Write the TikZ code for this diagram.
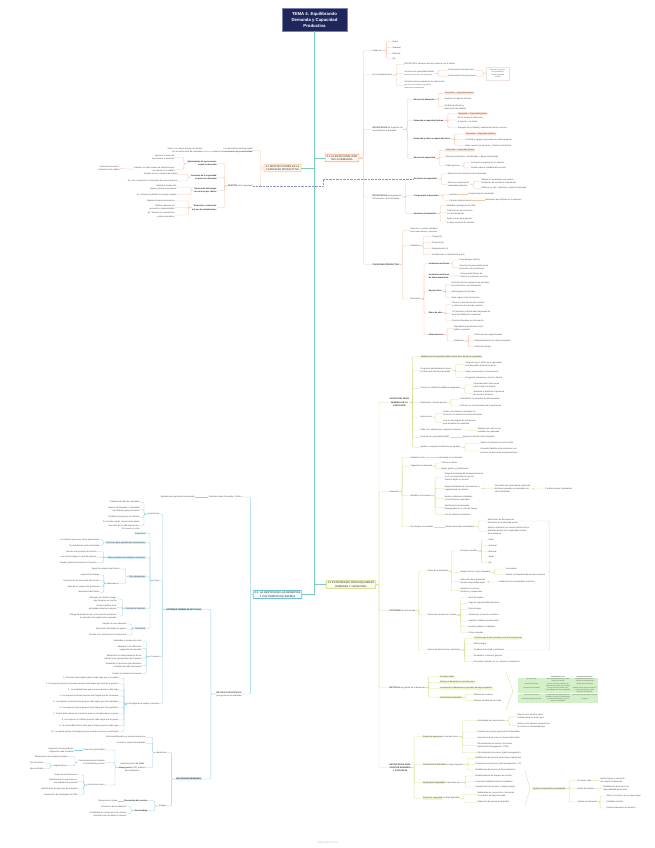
\documentclass[tikz,border=0pt]{standalone}
\usepackage{fontspec}
\setmainfont{Liberation Sans}
\usepackage{array,colortbl}
\usepackage{tikz}

\definecolor{ink}{RGB}{75,75,75}
\definecolor{ink2}{RGB}{45,40,40}
\definecolor{navy}{RGB}{31,38,92}
\definecolor{navyb}{RGB}{120,130,175}
\definecolor{mint}{RGB}{125,205,190}
\definecolor{oline}{RGB}{248,196,170}
\definecolor{obox}{RGB}{246,170,130}
\definecolor{ofill}{RGB}{255,246,240}
\definecolor{obox2}{RGB}{250,205,150}
\definecolor{ohl}{RGB}{253,226,212}
\definecolor{obx}{RGB}{236,226,222}
\definecolor{yline}{RGB}{218,224,150}
\definecolor{ybox}{RGB}{205,212,110}
\definecolor{yfill}{RGB}{252,253,238}
\definecolor{yhl}{RGB}{241,245,196}
\definecolor{tline}{RGB}{145,210,228}
\definecolor{tbox}{RGB}{110,190,218}
\definecolor{tfill}{RGB}{240,249,252}
\definecolor{thl}{RGB}{205,236,246}
\definecolor{dotc}{RGB}{140,150,190}
\definecolor{tgreen}{RGB}{212,240,200}
\definecolor{foot}{RGB}{190,190,190}

\newcommand{\fsz}{\fontsize{2.1}{3.1}\selectfont}
\newcommand{\fsm}{\fontsize{1.6}{2.3}\selectfont}
\newcommand{\hly}[1]{{\setlength{\fboxsep}{0.3pt}\colorbox{yhl}{#1}}}

\begin{document}
\begin{tikzpicture}[x=1pt, y=-1pt,
    lf/.style={font=\fsz, text=ink, inner sep=0.3pt, anchor=west, align=left},
    lr/.style={lf, anchor=east, align=right},
    bd/.style={font=\fsz\bfseries, text=ink2},
    hO/.style={fill=ohl, inner xsep=0.8pt, rounded corners=0.4pt},
    hY/.style={fill=yhl, inner xsep=0.8pt, rounded corners=0.4pt},
    hT/.style={fill=thl, inner xsep=0.8pt, rounded corners=0.4pt},
    ttl/.style={fill=navy, draw=navyb, line width=0.8pt, text=white, font=\fontsize{4.3}{6}\selectfont\bfseries, align=center, minimum width=65, minimum height=23, inner sep=1pt},
    sec/.style={draw, line width=0.7pt, font=\fontsize{2.6}{3.3}\selectfont, text=ink2, align=center, inner xsep=1.5pt, inner ysep=1.2pt, rounded corners=0.5pt},
    oln/.style={draw=oline, line width=0.35pt, rounded corners=1pt},
    yln/.style={draw=yline, line width=0.35pt, rounded corners=1pt},
    tln/.style={draw=tline, line width=0.35pt, rounded corners=1pt},
    mln/.style={draw=mint, line width=0.9pt},
    dln/.style={draw=dotc, line width=0.4pt, densely dotted}]

\fill[white] (0,0) rectangle (655,848);
\useasboundingbox (0,0) rectangle (655,848);

% title and main topics
\node[ttl] (T) at (314.5,19.5) {TEMA 4. Equilibrando\\Demanda y Capacidad\\Productiva};
\node[sec, draw=obox, fill=ofill] (S1) at (342,158) {4.1 LA ESTACIONALIDAD\\DE LA DEMANDA};
\node[sec, draw=obox2, fill=ofill] (S2) at (282.5,168) {4.2 RESTRICCIONES DE LA\\CAPACIDAD PRODUCTIVA};
\node[sec, draw=ybox, fill=yfill] (S3) at (351,584.5) {4.3 ESTRATEGIAS PARA EQUILIBRAR\\DEMANDA Y CAPACIDAD};
\node[sec, draw=tbox, fill=tfill] (S4) at (277.5,594.5) {4.4. LA GESTIÓN DE LAS RESERVAS\\Y LOS TIEMPOS DE ESPERA};

\draw[mln] (T.south) |- (S1.west);
\draw[mln] (T.south) |- (S2.east);
\draw[mln] (T.south) |- (S3.west);
\draw[mln] (T.south) |- (S4.east);

% 4.1
\node[lf] (a1) at (372,50.7) {Puede ser};
\node[lf] (a11) at (392,41.3) {Diaria};
\node[lf] (a12) at (392,47.3) {Semanal};
\node[lf] (a13) at (392,53.3) {Mensual};
\node[lf] (a14) at (392,59) {Etc.};
\node[lf] (a2) at (372,75) {Es un problema para};
\node[lf] (a21) at (404,64.3) {EXCEPCIÓN: servicios de bajo contacto con el cliente};
\node[lf] (a22) at (404,73.3) {Servicios de capacidad limitada\\{\fsm (servicios personales o de alojamiento)}};
\node[lf] (a221) at (447.3,70.3) {Procesamiento de personas};
\node[lf] (a222) at (447.3,76.3) {Procesamiento de posesiones};
\node[draw=obx, fill=white, font=\fsm, text=ink, align=center, inner sep=0.6pt, minimum width=23, minimum height=13] (a2b) at (497.7,73.3) {Parte de los servicios\\de capacidad fija\\son de capacidad\\limitada};
\node[lf] (a23) at (404,85.2) {Servicios de procesamiento de información\\{\fsm (servicios de información que pueden}\\{\fsm almacenarse o transmitirse)}};
\node[lf] (a3) at (372,129.3) {\textbf{ESTRATEGIAS} de la gestión de\\capacidad de la demanda};
\node[lf, bd] (a31) at (413.3,99.3) {Exceso de demanda};
\node[lf, hO] (a311) at (444,93.3) {Demanda > Capacidad óptima};
\node[lf] (a312) at (444,99) {Rechazo de algunos clientes};
\node[lf] (a313) at (444,106.8) {Pérdida de clientes y\\disminución de calidad};
\node[lf, bd] (a32) at (413.3,120.7) {Demanda a capacidad óptima};
\node[lf, hO] (a321) at (457.3,113.7) {Demanda = Capacidad óptima};
\node[lf] (a322) at (457.3,120) {Es un escenario ideal para\\el servicio y el cliente};
\node[lf] (a323) at (457.3,127.7) {Desgaste de la calidad y mantención de los recursos};
\node[lf, bd] (a33) at (413.3,139) {Demanda y oferta a capacidad plena};
\node[lf, hO] (a331) at (465,134) {Demanda = Capacidad máxima};
\node[lf] (a332) at (465,139.7) {Personal y equipos se pueden ver sobrecargados};
\node[lf] (a333) at (465,145.3) {Buen servicio sin demoras = Clientes satisfechos};
\node[lf, bd] (a34) at (413.3,158.3) {Exceso de capacidad};
\node[lf, hO] (a341) at (445,150.3) {Demanda < Capacidad óptima};
\node[lf] (a342) at (445,157) {Recursos productivos subutilizados = Baja productividad};
\node[lf] (a343) at (445,166) {Puede generar};
\node[lf] (a3431) at (470.7,162.7) {Percepción negativa en los clientes};
\node[lf] (a3432) at (470.7,168) {Dudas sobre la viabilidad del servicio};
\node[lf] (a4) at (372,197) {\textbf{ESTRATEGIAS} para gestionar\\la fluctuación de la demanda};
\node[lf, bd] (a41) at (413.3,179) {Gestionar la capacidad};
\node[lf] (a411) at (447.3,174) {Reducción de variaciones de la demanda};
\node[lf] (a412) at (447.3,184.7) {Recursos conjuntos de\\capacidad productiva};
\node[lf] (a4121) at (481,181.2) {Estimar la capacidad como será la\\instalación de acuerdo a la demanda};
\node[lf] (a4122) at (481,188.3) {Elaborar un plan: optimizar o seguir la demanda};
\node[lf, bd] (a42) at (413.3,195.7) {Comprender la demanda};
\node[lf] (a421) at (449,194.3) {Patrones};
\node[lf] (a4211) at (467.7,194.3) {Comportamiento predecible};
\node[lf] (a422) at (449,200.3) {Factores determinantes};
\node[lf] (a4221) at (485,200.3) {Elementos que influyen en la variación};
\node[lf, bd] (a43) at (413.3,213.7) {Gestionar la demanda};
\node[lf] (a431) at (446.7,205.7) {Medidas estratégicas de CRM};
\node[lf] (a432) at (446.7,212.5) {Subir precios en horas pico\\con alta demanda};
\node[lf] (a433) at (446.7,221) {Bajar precios para generar\\un flujo constante de clientes};
\node[lf, bd] (a5) at (372,264.3) {CAPACIDAD PRODUCTIVA};
\node[lf] (a51) at (410,230.3) {Recursos o activos utilizados\\para crear bienes y servicios};
\node[lf] (a52) at (410,245.3) {Definición};
\node[lf] (a521) at (431.7,236.7) {Tiempo (h)};
\node[lf] (a522) at (431.7,242.7) {Personal (\#)};
\node[lf] (a523) at (431.7,248.7) {Equipamiento (u)};
\node[lf] (a524) at (431.7,254.7) {Instalaciones e infraestructura (m²)};
\node[lf] (a53) at (410,299) {Elementos};
\node[lf, bd] (p1) at (428.3,263.7) {Instalaciones físicas};
\node[lf] (p11) at (459,260) {Para albergar clientes};
\node[lf] (p12) at (459,267.7) {Servicios de procesamiento de\\personas o de posesiones};
\node[lf, bd] (p2) at (428.3,276) {Instalaciones físicas\\de almacenamiento};
\node[lf] (p21) at (460,275.8) {Para guardar bienes de\\clientes o productos en venta};
\node[lf, bd] (p3) at (428.3,291.3) {Equipo físico};
\node[lf] (p31) at (451,284.5) {Servicios de procesamiento de personas,\\de posesiones o de información};
\node[lf] (p32) at (451,292) {Amplia gama de artículos};
\node[lf] (p33) at (451,297.7) {Varía según el tipo de servicio};
\node[lf, bd] (p4) at (428.3,313) {Mano de obra};
\node[lf] (p41) at (451.7,304.8) {Clave en servicios de alto contacto\\y mínima en los de bajo contacto};
\node[lf] (p42) at (451.7,313.5) {Los servicios profesionales dependen de\\personal altamente capacitado};
\node[lf] (p43) at (451.7,320.3) {Servicios basados en información};
\node[lf, bd] (p5) at (428.3,334.7) {Infraestructura};
\node[lf] (p51) at (453.3,328.2) {Dependencia de infraestructura\\pública o privada};
\node[lf] (p52) at (453.3,341) {Problemas};
\node[lf] (p521) at (474,335) {Rutas aéreas congestionadas};
\node[lf] (p522) at (474,341) {Embotellamientos en calles principales};
\node[lf] (p523) at (474,346.7) {Fallos de energía};

\foreach \c in {a1,a2,a3,a4,a5} \draw[oln] (S1.east) -- ++(4,0) |- (\c.west);
\foreach \c in {a11,a12,a13,a14} \draw[oln] (a1.east) -- ++(4,0) |- (\c.west);
\foreach \c in {a21,a22,a23} \draw[oln] (a2.east) -- ++(4,0) |- (\c.west);
\foreach \c in {a221,a222} \draw[oln] (a22.east) -- ++(4,0) |- (\c.west);
\foreach \c in {a221,a222} \draw[oln] (a2b.west) -- ++(-3,0) |- (\c.east);
\foreach \c in {a31,a32,a33,a34} \draw[oln] (a3.east) -- ++(4,0) |- (\c.west);
\foreach \c in {a311,a312,a313} \draw[oln] (a31.east) -- ++(4,0) |- (\c.west);
\foreach \c in {a321,a322,a323} \draw[oln] (a32.east) -- ++(4,0) |- (\c.west);
\foreach \c in {a331,a332,a333} \draw[oln] (a33.east) -- ++(4,0) |- (\c.west);
\foreach \c in {a341,a342,a343} \draw[oln] (a34.east) -- ++(4,0) |- (\c.west);
\foreach \c in {a3431,a3432} \draw[oln] (a343.east) -- ++(4,0) |- (\c.west);
\foreach \c in {a41,a42,a43} \draw[oln] (a4.east) -- ++(4,0) |- (\c.west);
\foreach \c in {a411,a412} \draw[oln] (a41.east) -- ++(4,0) |- (\c.west);
\foreach \c in {a4121,a4122} \draw[oln] (a412.east) -- ++(4,0) |- (\c.west);
\foreach \c in {a421,a422} \draw[oln] (a42.east) -- ++(4,0) |- (\c.west);
\draw[oln] (a421.east) -- (a4211.west);
\draw[oln] (a422.east) -- (a4221.west);
\foreach \c in {a431,a432,a433} \draw[oln] (a43.east) -- ++(4,0) |- (\c.west);
\foreach \c in {a51,a52,a53} \draw[oln] (a5.east) -- ++(3,0) |- (\c.west);
\foreach \c in {a521,a522,a523,a524} \draw[oln] (a52.east) -- ++(3,0) |- (\c.west);
\foreach \c in {p1,p2,p3,p4,p5} \draw[oln] (a53.east) -- ++(3,0) |- (\c.west);
\foreach \c in {p11,p12} \draw[oln] (p1.east) -- ++(3,0) |- (\c.west);
\draw[oln] (p2.east) -- (p21.west);
\foreach \c in {p31,p32,p33} \draw[oln] (p3.east) -- ++(3,0) |- (\c.west);
\foreach \c in {p41,p42,p43} \draw[oln] (p4.east) -- ++(3,0) |- (\c.west);
\foreach \c in {p51,p52} \draw[oln] (p5.east) -- ++(3,0) |- (\c.west);
\foreach \c in {p521,p522,p523} \draw[oln] (p52.east) -- ++(4,0) |- (\c.west);

% 4.2
\node[lr] (b1) at (253,150.7) {La capacidad productiva puede\\conllevar un \textbf{incremento de productividad}};
\node[lr] (b11) at (203,150.7) {Servir a un mayor número de clientes\\con el mismo nivel de capacidad};
\node[lr] (b2) at (253,186) {\textbf{GESTIÓN} de la capacidad};
\node[lr, bd] (b21) at (217,163.7) {Optimización de operaciones\\según la demanda};
\node[lr] (b211) at (175,157.7) {Ajustar el número de\\operaciones o personas};
\node[lr] (b212) at (175,169.3) {Trabajar con altos niveles de eficiencia pero\\con efecto en la calidad};
\node[lr] (b2121) at (120,168.5) {Demanda excesiva =\\Deterioro de la calidad};
\node[lr, bd] (b22) at (217,177.3) {Aumento de la capacidad\\en picos de demanda};
\node[lr] (b221) at (178,174.3) {Ampliar turnos y horarios de trabajo};
\node[lr] (b222) at (178,181) {Ej.: más contratación o formación de nuevos puestos};
\node[lr, bd] (b23) at (217,190.3) {Reducción del tiempo\\de servicio por cliente};
\node[lr] (b231) at (177,187.3) {Minimizar tiempos de\\espera y pasos innecesarios};
\node[lr] (b232) at (177,194.7) {Ej.: entrega de pedidos con mayor rapidez};
\node[lr, bd] (b24) at (217,207.7) {Extensión o reducción\\del uso de instalaciones};
\node[lr] (b241) at (175,201) {Emplear horarios de atención};
\node[lr] (b242) at (175,207.5) {Ofrecer espacios sin\\personal no imprescindible};
\node[lr] (b243) at (175,215) {Ej.: tiendas con autoservicio\\y cobro automático};

\foreach \c in {b1,b2} \draw[oln] (S2.west) -- ++(-3,0) |- (\c.east);
\draw[oln] (b1.west) -- (b11.east);
\foreach \c in {b21,b22,b23,b24} \draw[oln] (b2.west) -- ++(-3,0) |- (\c.east);
\foreach \c in {b211,b212} \draw[oln] (b21.west) -- ++(-3,0) |- (\c.east);
\draw[oln] (b212.west) -- (b2121.east);
\foreach \c in {b221,b222} \draw[oln] (b22.west) -- ++(-3,0) |- (\c.east);
\foreach \c in {b231,b232} \draw[oln] (b23.west) -- ++(-3,0) |- (\c.east);
\foreach \c in {b241,b242,b243} \draw[oln] (b24.west) -- ++(-3,0) |- (\c.east);
\draw[dln] (b2.east) -- ++(70,0) |- (a41.west);

% 4.3
\node[lf, bd, align=center] (c1) at (389,402.3) {AJUSTE DEL NIVEL\\GENERAL DE LA\\CAPACIDAD};
\node[lf, hY] (c11) at (420,356.7) {Medidas que los gerentes deben tomar para ajustar la capacidad};
\node[lf] (c12) at (420,370.7) {Programar detenidamente turnos\\en fluctuación de baja demanda};
\node[lf] (c121) at (465,364.3) {Asegurar que el 100\% de la capacidad\\esté disponible durante los picos};
\node[lf] (c122) at (465,371.7) {Hacer reparaciones y renovaciones};
\node[lf] (c123) at (465,377.7) {Programar vacaciones, cierres y fiestas};
\node[lf] (c13) at (420,388.3) {Formar en multifuncionalidad a empleados};
\node[lf] (c131) at (473,385) {Diversidad entre áreas para\\evitar cuellos de botella};
\node[lf] (c132) at (473,393.3) {Aumentar o disminuir el personal\\de recursos humanos};
\node[lf] (c14) at (420,402.7) {Empleados a tiempo parcial};
\node[lf] (c141) at (459.3,399.3) {Contratación en periodos de alta demanda};
\node[lf] (c142) at (459.3,406) {Contrato por circunstancias de la producción};
\node[lf] (c15) at (420,417) {Autoservicio};
\node[lf] (c151) at (442.7,413.5) {Invitar a los clientes a participar en\\el servicio en momentos de alta demanda};
\node[lf] (c152) at (442.7,422.5) {Uso de tecnologías de autoservicio\\para aumentar la capacidad};
\node[lf] (c16) at (420,430) {Pedir a los clientes que compartan recursos};
\node[lf] (c161) at (477.3,430.2) {Maximización del uso de\\unidades de capacidad};
\node[lf] (c17) at (420,437.3) {Creación de capacidad flexible};
\node[lf] (c171) at (462.7,437.3) {Ajustar en función de la demanda};
\node[lf] (c18) at (420,447.3) {Ajustar o compartir instalaciones y equipos};
\node[lf] (c181) at (480,443.3) {Reducir la inversión en activos fijos};
\node[lf] (c182) at (480,451) {Acuerdos flexibles entre empresas con\\patrones de demanda complementarios};

\node[lf] (c2) at (389,491.7) {Demanda};
\node[lf] (c21) at (410,457.3) {Analizar el ciclo};
\node[lf] (c211) at (436,457.3) {La demanda no es aleatoria};
\node[lf] (c22) at (410,466.3) {Segmentar la demanda};
\node[lf] (c221) at (441,463) {Patrones cíclicos};
\node[lf] (c222) at (441,468.7) {Mayor gestión y planificación};
\node[lf] (c23) at (410,495.7) {Identificar los patrones};
\node[lf] (c231) at (444.3,477.3) {Ninguna estrategia de demanda funciona\\si no se comprende por qué los\\clientes eligen un servicio};
\node[lf] (c232) at (444.3,488.3) {Registro detallado de transacciones y\\segmentación de clientes};
\node[lf] (c2321) at (494.3,488.7) {Fluctuación de cada cliente registrada\\de forma separada y respaldada con\\cifras detalladas};
\node[lf] (c23211) at (545,489) {Facilita predecir la demanda};
\node[lf] (c233) at (444.3,498.3) {Anotar condiciones climáticas\\y otros factores especiales};
\node[lf] (c234) at (444.3,507.3) {Identificación de demanda\\desagregada en el ciclo del tiempo};
\node[lf] (c235) at (444.3,514.3) {Uso de software estadístico};
\node[lf] (c24) at (410,526.7) {No siempre es deseable};
\node[lf] (c241) at (445,526.7) {Marcar demandas indeseables};
\node[lf] (c2411) at (487.3,521) {Eliminación de fluctuaciones\\aleatorias de la demanda actual};
\node[lf] (c2412) at (487.3,531.3) {Ayuda a mantener los niveles mínimos de la\\demanda dentro de la capacidad máxima\\de la empresa};

\node[lf] (c3) at (389,610.7) {\textbf{PATRONES} de la demanda};
\node[lf] (c31) at (427,571) {Ciclos de la demanda};
\node[lf] (c311) at (460,551) {Duración variable};
\node[lf] (e1) at (488,540) {Diaria};
\node[lf] (e2) at (488,545.7) {Semanal};
\node[lf] (e3) at (488,551.3) {Mensual};
\node[lf] (e4) at (488,557) {Anual};
\node[lf] (e5) at (488,562.7) {Etc.};
\node[lf] (c312) at (460,572.3) {Impacto de los ciclos solapados};
\node[lf] (c3121) at (505.7,569) {Acumulado};
\node[lf] (c3122) at (505.7,574.7) {Afecta a la demanda de muchos servicios};
\node[lf] (c313) at (460,581.7) {Reducción de la demanda\\durante temporadas bajas};
\node[lf] (c3131) at (498.3,582) {Problemas a los prestadores turísticos};
\node[lf] (c314) at (460,590.7) {Impacto en sectores\\turísticos y comerciales};
\node[lf] (c32) at (427,615) {Causas de variaciones cíclicas};
\node[lf] (c321) at (468,597.7) {Nivel de empleo};
\node[lf] (c322) at (468,603.3) {Pago de impuestos/devoluciones};
\node[lf] (c323) at (468,609.3) {Días de pago};
\node[lf] (c324) at (468,615) {Vacaciones y horarios escolares};
\node[lf] (c325) at (468,621) {Cambios climáticos estacionales};
\node[lf] (c326) at (468,626.7) {Eventos públicos y religiosos};
\node[lf] (c327) at (468,632.3) {Ciclos naturales};
\node[lf] (c33) at (427,650) {Causas de fluctuaciones aleatorias};
\node[lf, hY] (c331) at (473.3,638.3) {Factores que están fuera del control de la gerencia};
\node[lf] (c332) at (473.3,644) {Meteorología};
\node[lf] (c333) at (473.3,650) {Problemas de salud y epidemias};
\node[lf] (c334) at (473.3,656) {Accidentes, crímenes, guerras};
\node[lf] (c335) at (473.3,661.7) {Desastres naturales (p. ej. volcanes, terremotos)};

\node[lf] (c4) at (389,687.3) {\textbf{MÉTODOS} de gestión de la demanda};
\node[lf, hY] (c41) at (439,676.7) {No hacer nada};
\node[lf, hY] (c42) at (439,682.3) {Reducir la demanda en períodos pico};
\node[lf, hY] (c43) at (439,688.3) {Incrementar la demanda en períodos de baja ocupación};
\node[lf, hY] (c44) at (439,697.3) {Inventariar la demanda};
\node[lf] (c441) at (473.3,694.3) {Sistema de reservas};
\node[lf] (c442) at (473.3,700.3) {Sistema formalizado de colas};
\node[inner sep=0, anchor=west, text=ink] (tab) at (518,689) {\fontsize{1.5}{1.9}\selectfont
  \setlength{\tabcolsep}{0.8pt}\setlength{\arrayrulewidth}{0.35pt}\arrayrulecolor{white}\renewcommand{\arraystretch}{1.25}%
  \begin{tabular}{>{\centering\arraybackslash}p{25pt}>{\centering\arraybackslash}p{25pt}>{\centering\arraybackslash}p{25pt}}
  & \textbf{Demanda Excesiva} & \textbf{Demanda Insuficiente}\\
  \rowcolor{tgreen} No hacer nada & Colas desorganizadas que pueden irritar a los clientes & Capacidad desperdiciada y experiencia decepcionante\\ \hline
  \rowcolor{tgreen} Reducir la demanda & Precios más altos aumentan las ganancias; comunicar otros horarios & No hay acción necesaria\\ \hline
  \rowcolor{tgreen} Incrementar la demanda & No hay acción necesaria, salvo oportunidades de mayor rentabilidad & Reducir precios de forma selectiva; usar la comunicación y variar productos y distribución\\ \hline
  \rowcolor{tgreen} Reservar la demanda & Dar prioridad a los segmentos más rentables; cobrar por no presentarse & Aclarar que hay capacidad disponible\\ \hline
  \rowcolor{tgreen} Sistema formalizado de colas & Considerar prioridades y hacer la espera más agradable & No aplica\\
  \end{tabular}};

\node[lf, bd, align=center] (c5) at (389,767.5) {ESTRATEGIAS PARA\\AJUSTAR DEMANDA\\Y CAPACIDAD};
\node[lf] (c51) at (422,736.7) {\hly{Reducir la demanda} en períodos pico};
\node[lf] (c511) at (477,720.7) {Actividades de comunicación};
\node[lf] (c5111) at (517,716.7) {Educar a los clientes sobre\\cuándo acudir en horas pico};
\node[lf] (c5112) at (517,725.7) {Animar a los clientes a aprovechar\\el servicio en temporada baja};
\node[lf] (c512) at (477,732) {Aumento de precios para reducir la demanda};
\node[lf] (c513) at (477,738) {Descuentos para el uso en horas intermedias};
\node[lf] (c514) at (477,745.7) {Discriminación de clientes (Customer\\Relationship Management, CRM)};
\node[lf] (c515) at (477,752.7) {Discriminación de precios (yield management)};
\node[lf] (c52) at (422,764.3) {\hly{Incrementar la demanda} en baja ocupación};
\node[lf] (c521) at (475,758.3) {Modificación del servicio para nuevos segmentos};
\node[lf] (c522) at (475,764.3) {Promociones de precios (yield management, TU)};
\node[lf] (c523) at (475,770) {Modificación del horario de funcionamiento};
\node[lf] (c53) at (422,782.7) {\hly{Aumentar la capacidad} en períodos pico};
\node[lf] (c531) at (475,776) {Establecimiento de tiempos de servicio};
\node[lf] (c532) at (475,781.7) {Formación multifuncional de empleados};
\node[lf] (c533) at (475,787) {Compartición de recursos o tiempo parcial};
\node[lf] (c54) at (422,798.3) {\hly{Reducir la capacidad} en baja demanda};
\node[lf] (c541) at (477,794.3) {Mantenimiento, vacaciones y formación\\en periodos de baja demanda};
\node[lf] (c542) at (477,802.3) {Reducción de personal (despidos)};
\node[lf, hY] (c6) at (532,788.7) {Ajustar la capacidad a la demanda};
\node[lf] (c61) at (577,780.7) {No hacer nada};
\node[lf] (c611) at (600,780.5) {Mucho tiempo y ubicación\\sin cumplir la demanda};
\node[lf] (c62) at (577,788.7) {Ajuste de horarios};
\node[lf] (c621) at (603,788.2) {Modificación del horario de\\disponibilidad del servicio};
\node[lf] (c63) at (577,802) {Cambio de ubicación};
\node[lf] (c631) at (606,796) {Ofrecer el servicio en un nuevo lugar};
\node[lf] (c632) at (606,802) {Unidades móviles};
\node[lf] (c633) at (606,808) {Puntos temporales de atención};

\foreach \c in {c1,c2,c3,c4,c5} \draw[yln] (S3.east) -- ++(3,0) |- (\c.west);
\foreach \c in {c11,c12,c13,c14,c15,c16,c17,c18} \draw[yln] (c1.east) -- ++(2.5,0) |- (\c.west);
\foreach \c in {c121,c122,c123} \draw[yln] (c12.east) -- ++(4,0) |- (\c.west);
\foreach \c in {c131,c132} \draw[yln] (c13.east) -- ++(4,0) |- (\c.west);
\foreach \c in {c141,c142} \draw[yln] (c14.east) -- ++(4,0) |- (\c.west);
\foreach \c in {c151,c152} \draw[yln] (c15.east) -- ++(3,0) |- (\c.west);
\draw[yln] (c16.east) -- (c161.west);
\draw[yln] (c17.east) -- (c171.west);
\foreach \c in {c181,c182} \draw[yln] (c18.east) -- ++(4,0) |- (\c.west);
\foreach \c in {c21,c22,c23,c24} \draw[yln] (c2.east) -- ++(3,0) |- (\c.west);
\draw[yln] (c21.east) -- (c211.west);
\foreach \c in {c221,c222} \draw[yln] (c22.east) -- ++(3,0) |- (\c.west);
\foreach \c in {c231,c232,c233,c234,c235} \draw[yln] (c23.east) -- ++(3,0) |- (\c.west);
\draw[yln] (c232.east) -- ++(3,0) |- (c2321.west);
\draw[yln] (c2321.east) -- ++(3,0) |- (c23211.west);
\draw[yln] (c24.east) -- (c241.west);
\foreach \c in {c2411,c2412} \draw[yln] (c241.east) -- ++(4,0) |- (\c.west);
\draw[yln] (c2411.east) -- ++(31,0) |- (c333.east);
\foreach \c in {c31,c32,c33} \draw[yln] (c3.east) -- ++(3,0) |- (\c.west);
\foreach \c in {c311,c312,c313,c314} \draw[yln] (c31.east) -- ++(3,0) |- (\c.west);
\foreach \c in {e1,e2,e3,e4,e5} \draw[yln] (c311.east) -- ++(4,0) |- (\c.west);
\foreach \c in {c3121,c3122} \draw[yln] (c312.east) -- ++(4,0) |- (\c.west);
\draw[yln] (c313.east) -- ++(3,0) |- (c3131.west);
\foreach \c in {c321,c322,c323,c324,c325,c326,c327} \draw[yln] (c32.east) -- ++(4,0) |- (\c.west);
\foreach \c in {c331,c332,c333,c334,c335} \draw[yln] (c33.east) -- ++(4,0) |- (\c.west);
\foreach \c in {c41,c42,c43,c44} \draw[yln] (c4.east) -- ++(3,0) |- (\c.west);
\foreach \c in {c441,c442} \draw[yln] (c44.east) -- ++(3,0) |- (\c.west);
\draw[yln] (tab.west) ++(-12,-17) -- ++(7,19) -- ++(-7,19);
\foreach \c in {c51,c52,c53,c54} \draw[yln] (c5.east) -- ++(3,0) |- (\c.west);
\foreach \c in {c511,c512,c513,c514,c515} \draw[yln] (c51.east) -- ++(4,0) |- (\c.west);
\foreach \c in {c5111,c5112} \draw[yln] (c511.east) -- ++(4,0) |- (\c.west);
\foreach \c in {c521,c522,c523} \draw[yln] (c52.east) -- ++(4,0) |- (\c.west);
\foreach \c in {c531,c532,c533} \draw[yln] (c53.east) -- ++(4,0) |- (\c.west);
\foreach \c in {c541,c542} \draw[yln] (c54.east) -- ++(4,0) |- (\c.west);
\draw[yln] (c6.west) ++(-7,-18) -- ++(5,18) -- ++(-5,17);
\foreach \c in {c61,c62,c63} \draw[yln] (c6.east) -- ++(3,0) |- (\c.west);
\draw[yln] (c61.east) -- (c611.west);
\draw[yln] (c62.east) -- (c621.west);
\foreach \c in {c631,c632,c633} \draw[yln] (c63.east) -- ++(2.5,0) |- (\c.west);

% 4.4
\node[lr] (d1) at (242,497) {Relación donde Demanda > Oferta};
\node[lr] (d11) at (195,497) {Medidas para gestionar la demanda};
\node[lr, align=center] (d2) at (242,694) {\textbf{MÉTODOS PRINCIPALES}\\para gestionar la demanda};
\node[lr, bd, hT] (d21) at (202,609.3) {SISTEMAS FORMALES DE COLAS};
\node[lr, bd, hT] (d22) at (202,779) {GESTIÓN DE RESERVAS};
\node[lr] (q1) at (160,514) {Introducción};
\node[lr] (q11) at (140,502.3) {Problema de falta de capacidad};
\node[lr] (q12) at (140,509.8) {Número de llegadas > Capacidad\\del sistema para procesarlas};
\node[lr] (q13) at (140,517.3) {Pérdida de tiempo de los clientes};
\node[lr] (q14) at (140,525.3) {Por término medio, las personas pasan\\tres años de su vida esperando y\\20 meses en colas};
\node[lr] (q2) at (160,580.7) {Tipos};
\node[lr, hT] (t1) at (146,533.3) {Estructura};
\node[lr, hT] (t2) at (146,542.7) {Fila única para operaciones secuenciales};
\node[lr] (t21) at (100,539.7) {Los clientes pasan por varias operaciones};
\node[lr] (t22) at (100,545.3) {Proximidad de cuellos de botella};
\node[lr, hT] (t3) at (146,557.7) {Filas paralelas para múltiples servidores};
\node[lr] (t31) at (97,551.7) {Más de una posición de servicio};
\node[lr] (t32) at (97,557.3) {Los clientes eligen en qué fila ponerse};
\node[lr] (t33) at (97,562.7) {Pueden generar sensación de injusticia};
\node[lr, hT] (t4) at (146,576.7) {Filas designadas};
\node[lr] (t41) at (120,569) {Según la categoría del cliente};
\node[lr] (t42) at (120,583.3) {Basadas en:};
\node[lr] (t421) at (100,575) {Urgencia del trabajo};
\node[lr] (t422) at (100,580.7) {Duración de la transacción del servicio};
\node[lr] (t423) at (100,586.7) {Pago de un cargo extra (premium)};
\node[lr] (t424) at (100,592.3) {Importancia del cliente};
\node[lr, hT] (t5) at (146,608.3) {Sistema de números};
\node[lr] (t51) at (117,599) {Evita que los clientes tengan\\que formarse en una fila};
\node[lr] (t52) at (117,607.7) {Permite realizar otras\\actividades durante la espera};
\node[lr] (t53) at (117,616) {Riesgo de perder el turno si los clientes anteriores\\se atienden más rápido de lo esperado};
\node[lr, hT] (t6) at (146,628.3) {Fila virtual};
\node[lr] (t61) at (127,624) {Registro en un ordenador};
\node[lr] (t62) at (127,629.3) {Estimación del tiempo de espera};
\node[lr] (t63) at (127,635) {Permite a los clientes hacer otras tareas};
\node[lr] (q3) at (160,656.7) {Consejos};
\node[lr] (q31) at (142,641) {Rediseñar el sistema de colas};
\node[lr] (q32) at (142,648.3) {Adaptarlo a los diferentes\\segmentos de mercado};
\node[lr] (q33) at (142,657.3) {Administrar el comportamiento de los\\clientes y las percepciones de la espera};
\node[lr] (q34) at (142,665.7) {Rediseñar los procesos para disminuir\\el tiempo de cada transacción};
\node[lr] (q35) at (142,673.3) {Instalar un sistema de reservas};
\node[lr] (q4) at (160,704) {Psicología de la espera: principios};
\node[lr] (w1) at (119,678) {1. El tiempo desocupado parece más largo que el ocupado};
\node[lr] (w2) at (119,684) {2. Las esperas previas al proceso parecen más largas que durante el proceso};
\node[lr] (w3) at (119,690) {3. La ansiedad hace que la espera parezca más larga};
\node[lr] (w4) at (119,696) {4. Las esperas inciertas parecen más largas que las conocidas};
\node[lr] (w5) at (119,702) {5. Las esperas sin explicación parecen más largas que las explicadas};
\node[lr] (w6) at (119,708) {6. Las esperas injustas parecen más largas que las equitativas};
\node[lr] (w7) at (119,714) {7. Cuanto más valioso es el servicio, más se está dispuesto a esperar};
\node[lr] (w8) at (119,720) {8. Las esperas en solitario parecen más largas que en grupo};
\node[lr] (w9) at (119,725.7) {9. La incomodidad física hace que la espera parezca más larga};
\node[lr] (w10) at (119,731.5) {10. La espera parece más larga para los usuarios nuevos u ocasionales};
\node[lr] (r1) at (167,752.7) {Beneficios};
\node[lr] (r11) at (146,737.3) {Evita insatisfacción por esperas excesivas};
\node[lr] (r12) at (146,743.3) {Controla y suaviza la demanda};
\node[lr, align=center] (r13) at (146,767.3) {Implementación de \textbf{Yield}\\\textbf{Management} (YM): práctica\\del rendimiento};
\node[lr] (y1) at (105,750) {Costes de oportunidad};
\node[lr] (y11) at (74,750) {Asignación de capacidad a\\segmentos más rentables};
\node[lr] (y2) at (105,762.3) {Toma de decisiones basada\\en información precisa};
\node[lr] (y21) at (68,756.7) {Tabulaciones de ocupación pasada};
\node[lr] (y22) at (68,765.7) {Segmentar por};
\node[lr] (y221) at (44,763) {Tipo de cliente};
\node[lr] (y222) at (44,768.5) {Época del año};
\node[lr] (y3) at (105,785) {Uso de datos para};
\node[lr] (y31) at (78,775) {Proyecciones financieras};
\node[lr] (y32) at (78,781.7) {Planificación de operaciones y\\necesidades de personal};
\node[lr] (y33) at (78,789) {Identificación de patrones de demanda};
\node[lr] (y34) at (78,795) {Preparación de estrategias de CRM};
\node[lr] (r2) at (167,806) {Riesgos};
\node[lr, bd] (r21) at (148,800.7) {Prevención del servicio};
\node[lr] (r211) at (118,800.7) {Riesgo de no-shows};
\node[lr, bd] (r22) at (148,810.7) {Overbooking};
\node[lr] (r221) at (127,806.7) {Incremento del rendimiento};
\node[lr] (r222) at (127,814) {Posibilidad de compensar a los clientes\\afectados para no dañar la relación};

\foreach \c in {d1,d2} \draw[tln] (S4.west) -- ++(-2.5,0) |- (\c.east);
\draw[tln] (d1.west) -- (d11.east);
\foreach \c in {d21,d22} \draw[tln] (d2.west) -- ++(-5,0) |- (\c.east);
\foreach \c in {q1,q2,q3,q4} \draw[tln] (d21.west) -- ++(-3,0) |- (\c.east);
\foreach \c in {q11,q12,q13,q14} \draw[tln] (q1.west) -- ++(-3.5,0) |- (\c.east);
\foreach \c in {t1,t2,t3,t4,t5,t6} \draw[tln] (q2.west) -- ++(-4,0) |- (\c.east);
\foreach \c in {t21,t22} \draw[tln] (t2.west) -- ++(-2.5,0) |- (\c.east);
\foreach \c in {t31,t32,t33} \draw[tln] (t3.west) -- ++(-3,0) |- (\c.east);
\foreach \c in {t41,t42} \draw[tln] (t4.west) -- ++(-2.5,0) |- (\c.east);
\foreach \c in {t421,t422,t423,t424} \draw[tln] (t42.west) -- ++(-3.5,0) |- (\c.east);
\foreach \c in {t51,t52,t53} \draw[tln] (t5.west) -- ++(-2.5,0) |- (\c.east);
\foreach \c in {t61,t62,t63} \draw[tln] (t6.west) -- ++(-2.5,0) |- (\c.east);
\foreach \c in {q31,q32,q33,q34,q35} \draw[tln] (q3.west) -- ++(-4,0) |- (\c.east);
\foreach \c in {w1,w2,w3,w4,w5,w6,w7,w8,w9,w10} \draw[tln] (q4.west) -- ++(-3,0) |- (\c.east);
\foreach \c in {r1,r2} \draw[tln] (d22.west) -- ++(-3.5,0) |- (\c.east);
\foreach \c in {r11,r12,r13} \draw[tln] (r1.west) -- ++(-3.5,0) |- (\c.east);
\foreach \c in {y1,y2,y3} \draw[tln] (r13.west) -- ++(-3.5,0) |- (\c.east);
\draw[tln] (y1.west) -- (y11.east);
\foreach \c in {y21,y22} \draw[tln] (y2.west) -- ++(-3,0) |- (\c.east);
\foreach \c in {y221,y222} \draw[tln] (y22.west) -- ++(-3,0) |- (\c.east);
\foreach \c in {y31,y32,y33,y34} \draw[tln] (y3.west) -- ++(-3,0) |- (\c.east);
\foreach \c in {r21,r22} \draw[tln] (r2.west) -- ++(-3.5,0) |- (\c.east);
\draw[tln] (r21.west) -- (r211.east);
\foreach \c in {r221,r222} \draw[tln] (r22.west) -- ++(-3,0) |- (\c.east);

\node[font=\fontsize{2.6}{3}\selectfont, text=foot] (ft) at (327.5,843) {Made with Xmind};
\end{tikzpicture}
\end{document}
